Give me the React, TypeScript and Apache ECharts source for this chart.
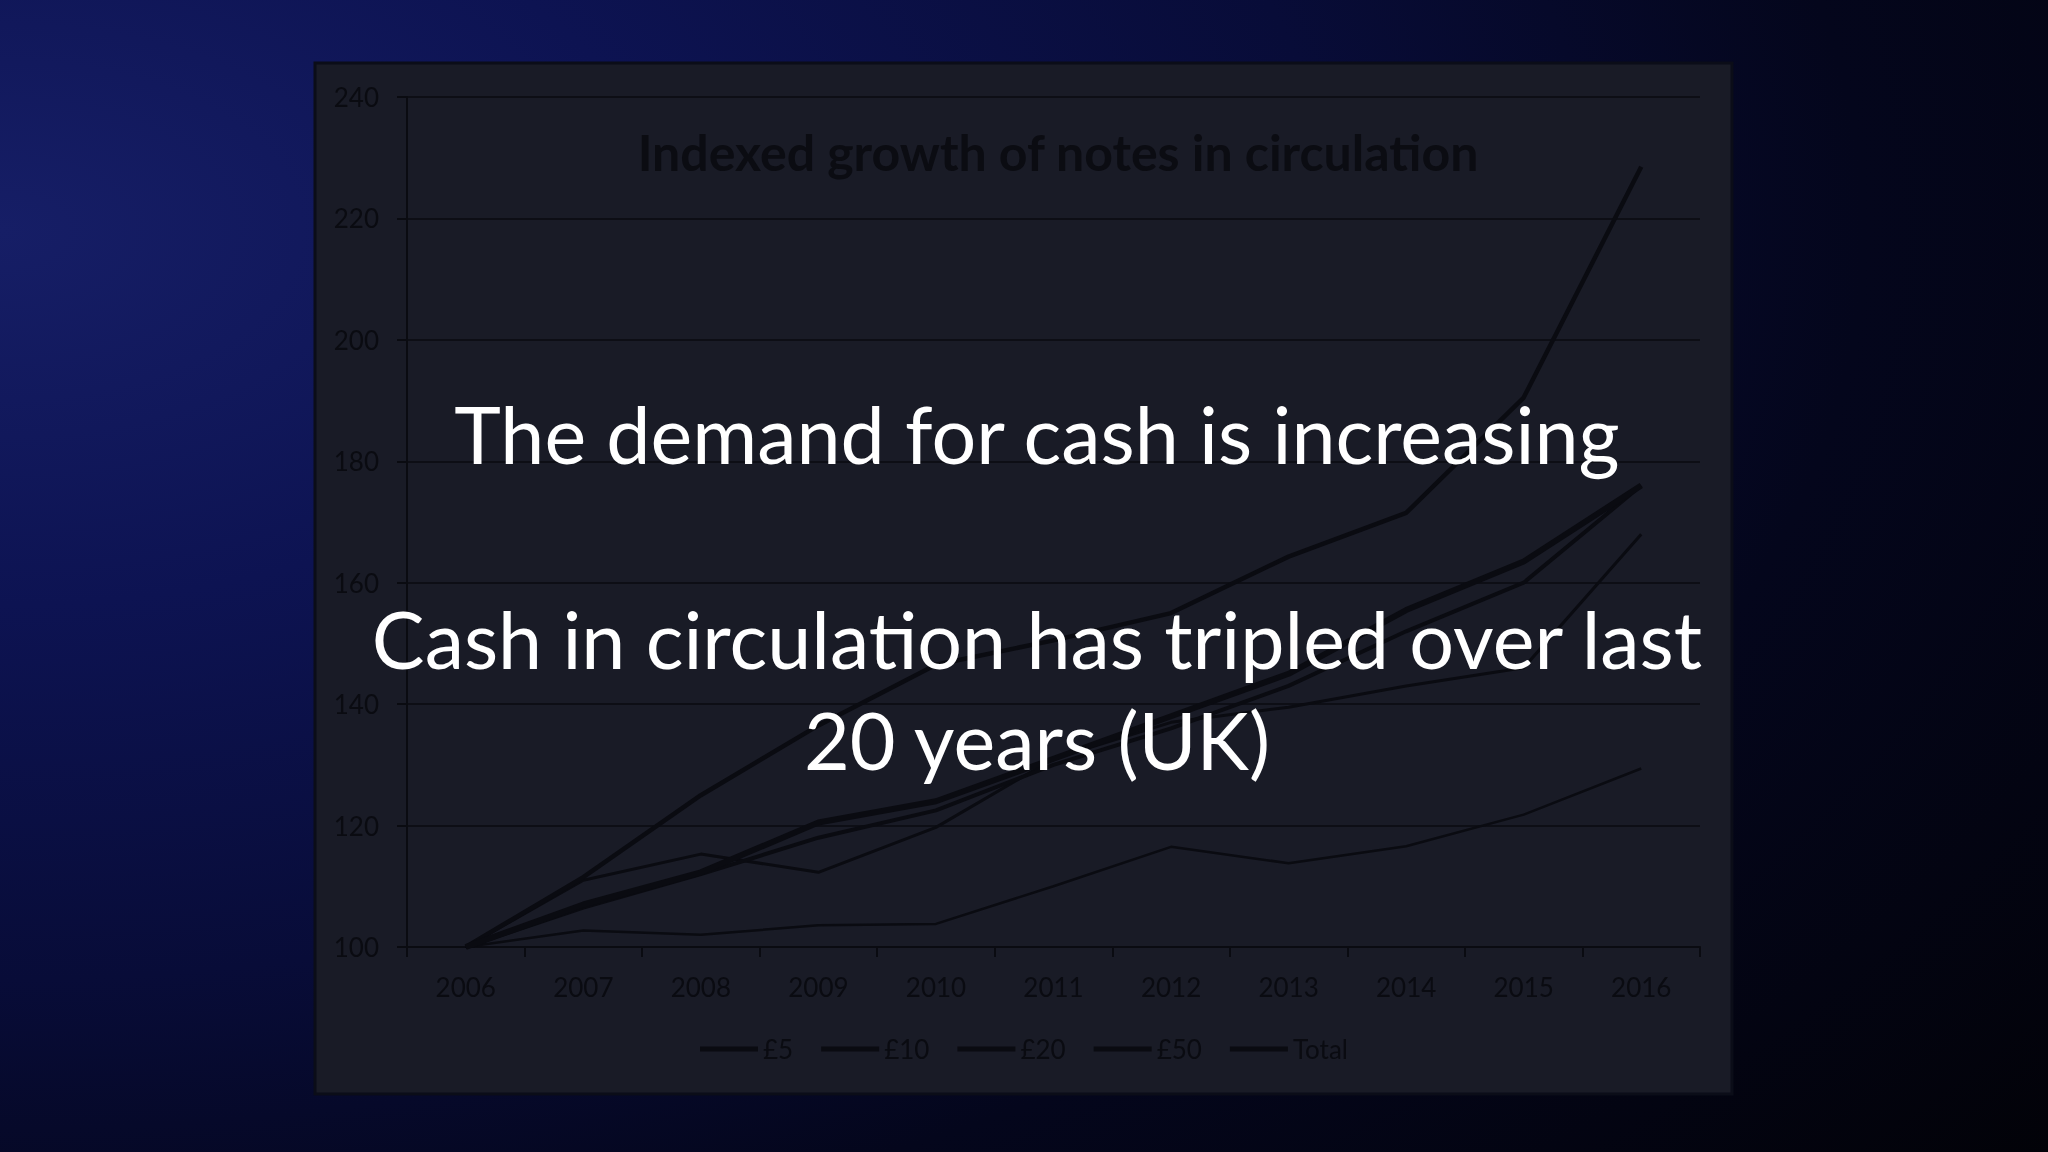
import React, { useEffect, useRef } from "react";
import * as echarts from "echarts";

const years = ["2006", "2007", "2008", "2009", "2010", "2011", "2012", "2013", "2014", "2015", "2016"];
const seriesNames = ["£5", "£10", "£20", "£50", "Total"];
const five = [100, 102.7, 102, 103.6, 103.8, 110, 116.5, 113.8, 116.6, 121.8, 129.4];
const ten = [100, 111, 115.3, 112.3, 119.7, 131, 137, 139.5, 143, 146, 168];
const twenty = [100, 106.5, 112, 118, 122.5, 130, 136, 143, 152, 160, 176];
const fifty = [100, 111.5, 125, 136.5, 146.5, 150.5, 155, 164.3, 171.5, 190.5, 228.5];
const total = [100, 107, 112.3, 120.5, 124, 131, 138, 145, 155.5, 163.5, 176];
const yTicks = { min: 100, max: 240, interval: 20 };

const chartTitle = "Indexed growth of notes in circulation";
const overlayLines = ["The demand for cash is increasing", "Cash in circulation has tripled over last", "20 years (UK)"];

export default function App() {
  const ref = useRef<HTMLDivElement>(null);
  useEffect(() => {
    if (!ref.current) return;
    const chart = echarts.init(ref.current, null, { renderer: "svg" });
    const dark = "#0a0b11";
    const lineWidths = [2.5, 3, 4, 4.5, 6];
    const data = [five, ten, twenty, fifty, total];
    chart.setOption({
      animation: false,
      backgroundColor: new echarts.graphic.RadialGradient(0.0, 0.2, 1.3, [
        { offset: 0, color: "#161e66" },
        { offset: 0.25, color: "#0d1352" },
        { offset: 0.5, color: "#080c38" },
        { offset: 0.7, color: "#04061c" },
        { offset: 1, color: "#020207" },
      ]),
      grid: { left: 407, top: 97, width: 1293, height: 850, containLabel: false },
      xAxis: {
        type: "category",
        data: years,
        boundaryGap: true,
        axisLine: { show: true, lineStyle: { color: dark, width: 2 } },
        axisTick: { show: true, length: 10, lineStyle: { color: dark, width: 2 } },
        axisLabel: { color: dark, fontSize: 26, fontFamily: "Lato", margin: 27 },
        splitLine: { show: false },
      },
      yAxis: {
        type: "value",
        min: yTicks.min,
        max: yTicks.max,
        interval: yTicks.interval,
        axisLine: { show: true, lineStyle: { color: dark, width: 2 } },
        axisTick: { show: true, length: 10, lineStyle: { color: dark, width: 2 } },
        axisLabel: { color: dark, fontSize: 26, fontFamily: "Lato", margin: 28 },
        splitLine: { show: true, lineStyle: { color: "#0d0e15", width: 2 } },
      },
      legend: {
        data: seriesNames,
        left: 695,
        top: 1031,
        icon: "rect",
        itemWidth: 58,
        itemHeight: 5,
        itemGap: 28,
        textStyle: { color: dark, fontSize: 26, fontFamily: "Lato" },
      },
      series: seriesNames.map((name, i) => ({
        name,
        type: "line",
        data: data[i],
        symbol: "none",
        color: dark,
        lineStyle: { color: dark, width: lineWidths[i] },
        z: 2 + i,
      })),
      graphic: [
        {
          type: "rect",
          z: -100,
          silent: true,
          shape: { x: 315, y: 63, width: 1417, height: 1031 },
          style: { fill: "#191b26", stroke: "#0b0d18", lineWidth: 3 },
        },
        {
          type: "text",
          z: 50,
          x: 1058,
          y: 152,
          style: {
            text: chartTitle,
            fill: "#0b0c12",
            fontSize: 50,
            fontWeight: "bold",
            fontFamily: "Lato",
            textAlign: "center",
            textVerticalAlign: "middle",
          },
        },
        ...overlayLines.map((t, i) => ({
          type: "text",
          z: 100,
          x: 1037,
          y: [433, 638, 739][i],
          style: {
            text: t,
            fill: "#ffffff",
            fontSize: 79,
            fontFamily: "Lato",
            textAlign: "center",
            textVerticalAlign: "middle",
          },
        })),
      ],
    });
    return () => chart.dispose();
  }, []);
  return <div ref={ref} style={{ position: "fixed", left: 0, top: 0, width: 2048, height: 1152 }} />;
}
